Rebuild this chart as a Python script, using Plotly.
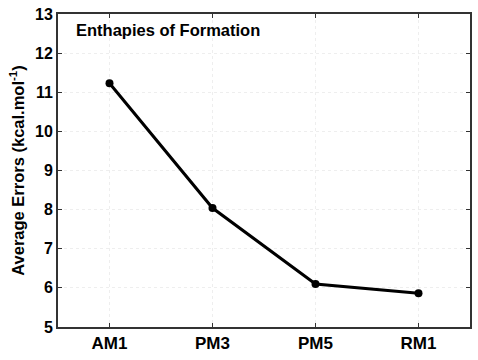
import plotly.graph_objects as go

methods = ["AM1", "PM3", "PM5", "RM1"]
errors = [11.23, 8.04, 6.10, 5.86]
y_ticks = [5, 6, 7, 8, 9, 10, 11, 12, 13]

fig = go.Figure()
fig.add_trace(go.Scatter(
    x=list(range(len(methods))), y=errors, mode="lines+markers",
    line=dict(color="black", width=3),
    marker=dict(color="black", size=8, symbol="circle"),
    showlegend=False,
))

axis_font = dict(family="Liberation Sans, Arial", size=16, color="black")
fig.update_layout(
    width=478, height=360,
    margin=dict(l=58, r=8, t=14, b=33),
    paper_bgcolor="white", plot_bgcolor="white",
    font=dict(family="Liberation Sans, Arial", color="black"),
    xaxis=dict(
        range=[-0.5, 3.5], tickmode="array",
        tickvals=list(range(len(methods))),
        ticktext=[f"<b>{m}</b>" for m in methods],
        tickfont=dict(family="Liberation Sans, Arial", size=17, color="black"),
        ticks="inside", ticklen=4, tickcolor="#333",
        showline=True, linecolor="#333", linewidth=2, mirror="ticks",
        showgrid=True, gridcolor="#eeeeee", griddash="dot", zeroline=False,
        automargin=False,
    ),
    yaxis=dict(
        range=[5, 13], tickmode="array", tickvals=y_ticks,
        ticktext=[f"<b>{t}</b>" for t in y_ticks],
        tickfont=axis_font, ticks="inside", ticklen=4, tickcolor="#333",
        showline=True, linecolor="#333", linewidth=2, mirror="ticks",
        showgrid=True, gridcolor="#eeeeee", griddash="dot", zeroline=False,
        automargin=False, ticklabeloverflow="allow",
        title=dict(text="<b>Average Errors (kcal.mol<sup>-1</sup>)</b>",
                   font=dict(family="Liberation Sans, Arial", size=16.5, color="black"),
                   standoff=6),
    ),
    annotations=[dict(
        text="<b>Enthapies of Formation</b>", x=0.04, y=0.95,
        xref="paper", yref="paper", xanchor="left", yanchor="middle",
        showarrow=False,
        font=dict(family="Liberation Sans, Arial", size=16.5, color="black"),
    )],
)

fig.write_html("out.html", config={"displayModeBar": False},
               post_script="document.body.style.margin='0';")
